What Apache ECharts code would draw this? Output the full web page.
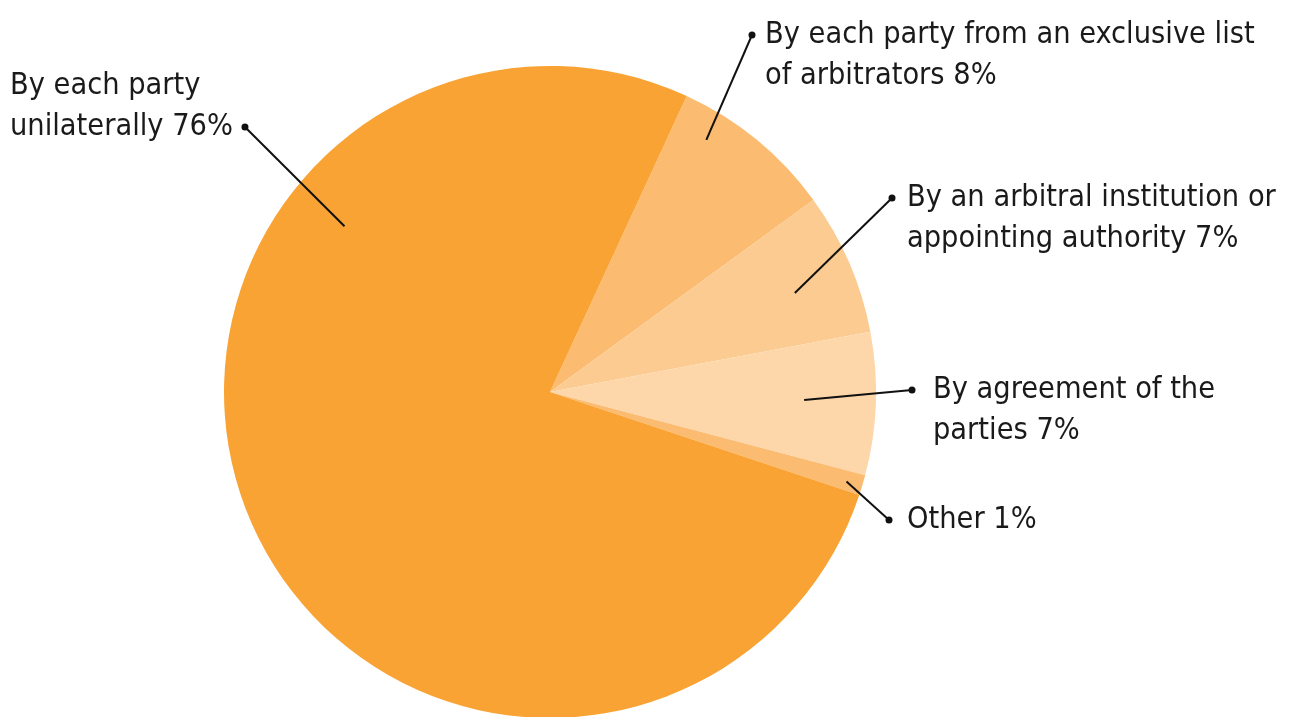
<!DOCTYPE html>
<html>
<head>
<meta charset="utf-8">
<script src="https://cdn.jsdelivr.net/npm/echarts@6/dist/echarts.min.js"></script>
<style>
  html, body { margin: 0; padding: 0; background: #fff; }
  #chart { width: 1296px; height: 717px; }
</style>
</head>
<body>
<div id="chart"></div>
<script>
// slices, clockwise from the top right
const names = [
  'By each party from an exclusive list of arbitrators',
  'By an arbitral institution or appointing authority',
  'By agreement of the parties',
  'Other',
  'By each party unilaterally'
]
const values = [8, 7, 7, 1, 76]
// label text, split in lines (percent is added after)
const labelText = [
  ['By each party from an exclusive list', 'of arbitrators'],
  ['By an arbitral institution or', 'appointing authority'],
  ['By agreement of the', 'parties'],
  ['Other'],
  ['By each party', 'unilaterally']
]
const colors = ['#fbbb70', '#fccb91', '#fdd7a9', '#fbbb70', '#f9a334']

// pick the narrowest installed font, then size it so the long line is ~490px
function hasFont(f) {
  const ctx = document.createElement('canvas').getContext('2d')
  const s = 'By each party from an exclusive list'
  ctx.font = '40px monospace'
  const a = ctx.measureText(s).width
  ctx.font = '40px "' + f + '", monospace'
  return ctx.measureText(s).width !== a
}
const candidates = ['Liberation Sans Narrow', 'Arial Narrow', 'DejaVu Sans Condensed']
const fam = candidates.find(hasFont) || 'sans-serif'
const FONT = '"' + fam + '", sans-serif'
const FS = (function () {
  const ctx = document.createElement('canvas').getContext('2d')
  ctx.font = '40px ' + FONT
  const w = ctx.measureText(labelText[0][0]).width
  return Math.min(36, 40 * 490 / w)
})()
const LH = 41
const CX = 550, CY = 392, R = 326

// where each label sits and where its leader line starts inside the slice
const layout = [
  { side: 'r', textX: 765, mid: 35, gap: 13, ang: 31.8, rf: 0.91 },
  { side: 'r', textX: 907, mid: 198, gap: 15, ang: 68, rf: 0.81 },
  { side: 'r', textX: 933, mid: 390, gap: 21, ang: 91.8, rf: 0.78 },
  { side: 'r', textX: 907, mid: 520, gap: 18, ang: 106.8, rf: 0.95 },
  { side: 'l', textX: 10, mid: 86, gap: 12, ang: 308.9, rf: 0.81 }
]

const dotStyle = { width: 7, height: 7, backgroundColor: '#111', borderRadius: 3.5 }
const txtStyle = { fontFamily: FONT, fontSize: FS, color: '#1a1a1a', lineHeight: LH }

const sliceData = names.map((n, i) => ({ name: n, value: values[i], itemStyle: { color: colors[i] } }))

// same slices again, transparent, on top: carries the labels so the lines show over the pie
const labelData = names.map((n, i) => {
  const lines = labelText[i].slice()
  lines[lines.length - 1] += ' ' + values[i] + '%'
  const cfg = layout[i]
  let fmt
  if (cfg.side === 'r') {
    fmt = lines.map((l, k) => (k === 0 ? '{d|}{g|}' : '{s|}') + '{t|' + l + '}').join('\n')
  } else {
    fmt = lines.map((l, k) => '{t|' + l + '}' + (k === lines.length - 1 ? '{g|}{d|}' : '')).join('\n')
  }
  return {
    name: n,
    value: values[i],
    label: {
      formatter: fmt,
      rich: {
        t: txtStyle,
        d: dotStyle,
        g: { width: cfg.gap - 3.5, height: 7 },
        s: { width: cfg.gap + 3.5, height: 7 }
      }
    }
  }
})

const base = {
  type: 'pie',
  center: [CX, CY],
  radius: R,
  startAngle: 65.2,
  clockwise: true,
  avoidLabelOverlap: false,
  silent: true,
  emphasis: { disabled: true }
}

const chart = echarts.init(document.getElementById('chart'))
chart.setOption({
  animation: false,
  series: [
    Object.assign({}, base, {
      z: 2,
      label: { show: false },
      labelLine: { show: false },
      data: sliceData
    }),
    Object.assign({}, base, {
      z: 5,
      itemStyle: { color: 'rgba(0,0,0,0)' },
      label: { show: true, position: 'outside', fontFamily: FONT, fontSize: FS },
      labelLine: { show: true, lineStyle: { color: '#111', width: 2 } },
      labelLayout(params) {
        const cfg = layout[params.dataIndex]
        const a = cfg.ang * Math.PI / 180
        const start = [CX + cfg.rf * R * Math.sin(a), CY - cfg.rf * R * Math.cos(a)]
        let x, y, dot
        if (cfg.side === 'r') {
          x = cfg.textX - cfg.gap - 3.5
          y = cfg.mid - LH / 2
          dot = [cfg.textX - cfg.gap, cfg.mid]
        } else {
          x = cfg.textX
          y = cfg.mid - LH / 2
          dot = [x + params.labelRect.width - 3.5, cfg.mid + LH]
        }
        return {
          x: x, y: y, align: 'left', verticalAlign: 'top',
          labelLinePoints: [start, dot, dot]
        }
      },
      data: labelData
    })
  ]
})
</script>
</body>
</html>
